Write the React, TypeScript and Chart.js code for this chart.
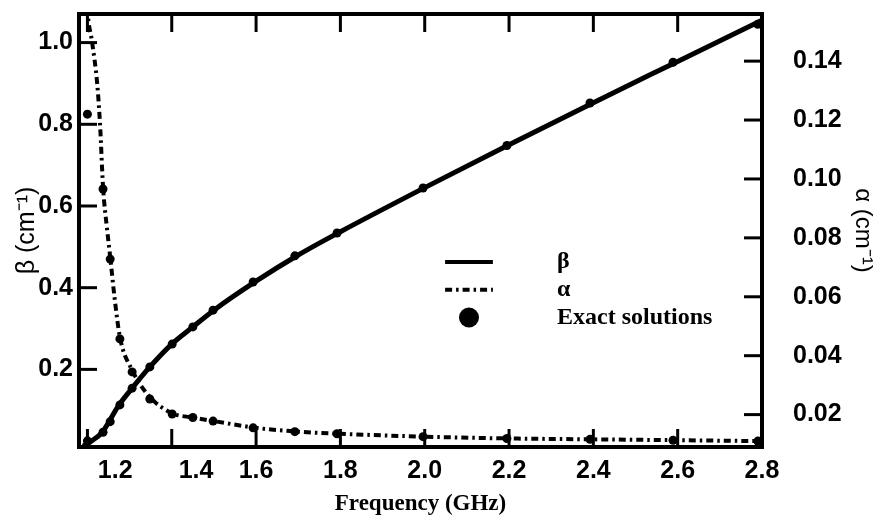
import React, { useEffect, useRef } from "react";
import { Chart, registerables } from "chart.js";

Chart.register(...registerables);

// ---- axis ticks ----
const freqTicks = [1.2, 1.4, 1.6, 1.8, 2.0, 2.2, 2.4, 2.6, 2.8];
const betaTicks = [0.2, 0.4, 0.6, 0.8, 1.0];
const alphaTicks = [0.02, 0.04, 0.06, 0.08, 0.1, 0.12, 0.14];

// ---- β (phase constant) curve, cm^-1 ----
const betaFreq = [1.19, 1.21, 1.235, 1.25, 1.273, 1.306, 1.348, 1.4, 1.45, 1.5, 1.6, 1.7, 1.8, 2.0, 2.2, 2.4, 2.6, 2.8];
const betaValues = [0.012, 0.025, 0.046, 0.07, 0.11, 0.154, 0.206, 0.262, 0.304, 0.345, 0.416, 0.48, 0.537, 0.645, 0.75, 0.853, 0.954, 1.055];

// ---- α (attenuation constant) curve, cm^-1 ----
const alphaFreq = [1.195, 1.2, 1.211, 1.223, 1.23, 1.237, 1.246, 1.254, 1.265, 1.277, 1.306, 1.348, 1.4, 1.45, 1.5, 1.6, 1.7, 1.8, 2.0, 2.2, 2.4, 2.6, 2.8];
const alphaValues = [0.17, 0.157, 0.1465, 0.1326, 0.1183, 0.0973, 0.0837, 0.0735, 0.0589, 0.0463, 0.0351, 0.026, 0.0205, 0.019, 0.0178, 0.0155, 0.0142, 0.0135, 0.0125, 0.0119, 0.0116, 0.0113, 0.011];

// ---- exact solutions ----
const exactFreq = [1.2, 1.237, 1.254, 1.277, 1.306, 1.348, 1.401, 1.45, 1.498, 1.593, 1.692, 1.792, 1.996, 2.195, 2.392, 2.589, 2.79];
const exactBeta = [0.025, 0.046, 0.072, 0.113, 0.154, 0.206, 0.262, 0.304, 0.345, 0.414, 0.478, 0.534, 0.644, 0.748, 0.852, 0.952, 1.045];
const exactAlpha = [0.122, 0.0966, 0.0728, 0.0457, 0.0345, 0.0253, 0.0202, 0.019, 0.0178, 0.0155, 0.0142, 0.0135, 0.0125, 0.0119, 0.0116, 0.0113, 0.011];

// labels of the first two frequency ticks sit to the right of their tick marks
const xLabelLead: Record<string, number> = { "1.2": 8, "1.4": 7 };

const SANS = "'Liberation Sans', Arial, Helvetica, sans-serif";
const SERIF = "'Liberation Serif', 'Times New Roman', serif";

const framePlugin = {
  id: "frameTicks",
  afterDatasetsDraw(chart: any) {
    const { ctx, chartArea: a, scales } = chart;
    const L = 18;
    ctx.save();
    ctx.strokeStyle = "#000";
    ctx.lineCap = "butt";
    ctx.lineWidth = 3;
    const line = (x1: number, y1: number, x2: number, y2: number) => {
      ctx.beginPath();
      ctx.moveTo(x1, y1);
      ctx.lineTo(x2, y2);
      ctx.stroke();
    };
    for (const v of freqTicks) {
      const px = scales.x.getPixelForValue(v);
      if (px < a.left + 5 || px > a.right - 5) continue;
      line(px, a.bottom, px, a.bottom - L);
      line(px, a.top, px, a.top + L);
    }
    for (const v of betaTicks) {
      const py = scales.y.getPixelForValue(v);
      if (py < a.top + 5 || py > a.bottom - 5) continue;
      line(a.left, py, a.left + L, py);
    }
    for (const v of alphaTicks) {
      const py = scales.y2.getPixelForValue(v);
      if (py < a.top + 5 || py > a.bottom - 5) continue;
      line(a.right, py, a.right - L, py);
    }
    ctx.lineWidth = 4;
    ctx.strokeRect(a.left, a.top, a.right - a.left, a.bottom - a.top);
    ctx.restore();
  },
};

const insideLegend = {
  id: "insideLegend",
  afterDraw(chart: any, _args: any, opts: any) {
    const { ctx, chartArea: a } = chart;
    const w = a.right - a.left;
    const h = a.bottom - a.top;
    const items = chart.data.datasets.filter((d: any) => d.label && !d.noLegend);
    const x1 = a.left + opts.sampleStart * w;
    const x2 = a.left + opts.sampleEnd * w;
    const tx = a.left + opts.textX * w;
    ctx.save();
    items.forEach((d: any, i: number) => {
      const y = a.top + (opts.firstRow + i * opts.rowStep) * h;
      if (d.showLine === false) {
        ctx.fillStyle = "#000";
        ctx.beginPath();
        ctx.arc((x1 + x2) / 2, y, opts.dotRadius, 0, Math.PI * 2);
        ctx.fill();
      } else {
        ctx.strokeStyle = d.borderColor;
        ctx.lineWidth = 4;
        ctx.lineCap = "butt";
        ctx.setLineDash(d.borderDash || []);
        ctx.beginPath();
        ctx.moveTo(x1, y);
        ctx.lineTo(x2, y);
        ctx.stroke();
        ctx.setLineDash([]);
      }
      ctx.fillStyle = "#000";
      ctx.font = opts.font;
      ctx.textAlign = "left";
      ctx.textBaseline = "middle";
      ctx.fillText(d.label, tx, y);
    });
    ctx.restore();
  },
};

export default function App() {
  const ref = useRef<HTMLCanvasElement | null>(null);

  useEffect(() => {
    if (!ref.current) return;
    const pts = (xs: number[], ys: number[]) => xs.map((x, i) => ({ x, y: ys[i] }));
    const chart = new Chart(ref.current, {
      type: "line",
      data: {
        datasets: [
          {
            label: "β",
            data: pts(betaFreq, betaValues),
            yAxisID: "y",
            borderColor: "#000",
            borderWidth: 5,
            pointRadius: 0,
            cubicInterpolationMode: "monotone",
          },
          {
            label: "α",
            data: pts(alphaFreq, alphaValues),
            yAxisID: "y2",
            borderColor: "#000",
            borderWidth: 4,
            borderDash: [7, 4, 2.5, 4],
            borderCapStyle: "butt",
            pointRadius: 0,
            cubicInterpolationMode: "monotone",
          },
          {
            label: "Exact solutions",
            data: pts(exactFreq, exactBeta),
            yAxisID: "y",
            showLine: false,
            pointRadius: 4.5,
            pointBackgroundColor: "#000",
            pointBorderWidth: 0,
          },
          {
            label: "Exact solutions (α)",
            noLegend: true,
            data: pts(exactFreq, exactAlpha),
            yAxisID: "y2",
            showLine: false,
            pointRadius: 4.5,
            pointBackgroundColor: "#000",
            pointBorderWidth: 0,
          } as any,
        ],
      },
      options: {
        animation: false,
        responsive: true,
        maintainAspectRatio: false,
        layout: { padding: { top: 14, left: 0, right: 0, bottom: 0 } },
        plugins: {
          legend: { display: false },
          tooltip: { enabled: false },
          insideLegend: {
            sampleStart: 0.536,
            sampleEnd: 0.606,
            textX: 0.7,
            firstRow: 0.573,
            rowStep: 0.064,
            dotRadius: 10,
            font: `bold 24px ${SERIF}`,
          },
        } as any,
        scales: {
          x: {
            type: "linear",
            position: "bottom",
            min: 1.18,
            max: 2.8,
            afterBuildTicks: (s: any) => {
              s.ticks = freqTicks.map((v) => ({ value: v }));
            },
            afterFit: (s: any) => {
              s.height = 76;
              s.paddingLeft = 0;
              s.paddingRight = 0;
            },
            grid: { display: false, drawTicks: false },
            border: { display: false },
            ticks: {
              autoSkip: false,
              maxRotation: 0,
              minRotation: 0,
              padding: 9,
              color: "#000",
              font: { family: SANS, size: 25, weight: "bold" },
              callback: (v: any) => {
                const s = Number(v).toFixed(1);
                return " ".repeat(xLabelLead[s] || 0) + s;
              },
            },
            title: {
              display: true,
              text: "Frequency (GHz)",
              color: "#000",
              font: { family: SERIF, size: 23, weight: "bold" },
              padding: { top: 0, bottom: 5 },
            },
          },
          y: {
            type: "linear",
            position: "left",
            min: 0.01,
            max: 1.07,
            afterBuildTicks: (s: any) => {
              s.ticks = betaTicks.map((v) => ({ value: v }));
            },
            afterFit: (s: any) => {
              s.width = 79;
              s.paddingTop = 0;
              s.paddingBottom = 0;
            },
            grid: { display: false, drawTicks: false },
            border: { display: false },
            ticks: {
              padding: 6,
              color: "#000",
              font: { family: SANS, size: 25, weight: "bold" },
              callback: (v: any) => Number(v).toFixed(1),
            },
            title: {
              display: true,
              text: "β (cm⁻¹)",
              color: "#000",
              font: { family: SANS, size: 25 },
              padding: { top: 12, bottom: 0 },
            },
          },
          y2: {
            type: "linear",
            position: "right",
            min: 0.009,
            max: 0.156,
            afterBuildTicks: (s: any) => {
              s.ticks = alphaTicks.map((v) => ({ value: v }));
            },
            afterFit: (s: any) => {
              s.width = 123;
              s.paddingTop = 0;
              s.paddingBottom = 0;
            },
            grid: { display: false, drawTicks: false },
            border: { display: false },
            ticks: {
              padding: 31,
              color: "#000",
              font: { family: SANS, size: 25, weight: "bold" },
              callback: (v: any) => Number(v).toFixed(2),
            },
            title: {
              display: true,
              text: "α (cm⁻¹)",
              color: "#000",
              font: { family: SANS, size: 24 },
              padding: { top: 8, bottom: 0 },
            },
          },
        },
      } as any,
      plugins: [framePlugin, insideLegend],
    });
    return () => chart.destroy();
  }, []);

  return (
    <div style={{ position: "fixed", left: 0, top: 0, width: 885, height: 523, background: "#fff" }}>
      <canvas ref={ref} />
    </div>
  );
}
